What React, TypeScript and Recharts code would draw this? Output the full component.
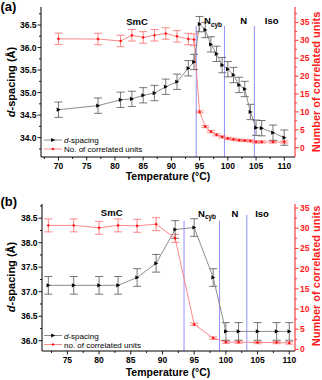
import React from 'react';
import { ComposedChart, Line, XAxis, YAxis, ErrorBar, ReferenceLine } from 'recharts';

const FONT = 'Arial, "Liberation Sans", Helvetica, sans-serif';

// ---------- Panel (a) ----------
const tempA = [70, 77, 81, 83, 85, 87, 89, 91, 93, 94, 95, 96, 97, 98, 99, 100, 101, 102, 103, 104, 105, 106, 108, 110];
const dSpacingA = [34.62, 34.71, 34.84, 34.86, 34.94, 34.99, 35.13, 35.24, 35.54, 35.68, 36.52, 36.39, 36.07, 35.86, 35.61, 35.52, 35.39, 35.17, 35.08, 34.57, 34.22, 34.21, 34.11, 34.0];
const dErrA = [0.17, 0.17, 0.17, 0.17, 0.17, 0.17, 0.17, 0.17, 0.17, 0.17, 0.17, 0.17, 0.17, 0.17, 0.17, 0.17, 0.17, 0.17, 0.17, 0.17, 0.17, 0.17, 0.17, 0.17];
const unitsA = [30.4, 30.35, 29.8, 31.4, 30.8, 31.4, 31.9, 31.1, 30.35, 30.2, 10.0, 5.9, 4.5, 3.6, 3.0, 2.6, 2.35, 2.1, 2.0, 1.9, 1.6, 1.6, 1.6, 1.6];
const uErrA = [1.6, 1.6, 1.6, 1.6, 1.6, 1.6, 1.6, 1.6, 1.6, 1.6, 0.3, 0.3, 0.3, 0.3, 0.3, 0.3, 0.3, 0.3, 0.3, 0.3, 0.3, 0.3, 0.3, 0.3];
const transitionsA = [94.4, 99.4, 104.7];
const transitionTopA = 36.48;
const xTicksA = [67.5, 70, 72.5, 75, 77.5, 80, 82.5, 85, 87.5, 90, 92.5, 95, 97.5, 100, 102.5, 105, 107.5, 110];
const leftTicksA = [33.75, 34, 34.25, 34.5, 34.75, 35, 35.25, 35.5, 35.75, 36, 36.25, 36.5, 36.75];
const rightTicksA = [0, 2.5, 5, 7.5, 10, 12.5, 15, 17.5, 20, 22.5, 25, 27.5, 30, 32.5, 35, 37.5];
const xDomainA = [66.9, 111.9];
const leftDomainA = [33.57, 36.9];
const rightDomainA = [-2.6, 39.3];

// ---------- Panel (b) ----------
const tempB = [72, 76, 80, 83, 86, 89, 92, 95, 98, 100, 102, 105, 108, 110];
const dSpacingB = [37.13, 37.13, 37.13, 37.13, 37.29, 37.58, 38.27, 38.31, 37.29, 36.19, 36.19, 36.19, 36.19, 36.19];
const dErrB = [0.18, 0.18, 0.18, 0.18, 0.18, 0.18, 0.18, 0.18, 0.18, 0.18, 0.18, 0.18, 0.18, 0.18];
const unitsB = [30.7, 30.7, 30.1, 30.7, 30.6, 31.0, 27.5, 6.2, 2.8, 1.8, 1.8, 1.7, 1.7, 1.6];
const uErrB = [1.6, 1.6, 1.6, 1.6, 1.6, 1.6, 1.0, 0.3, 0.3, 0.3, 0.3, 0.3, 0.3, 0.3];
const transitionsB = [93.4, 99.0, 103.3];
const transitionTopsB = [38.45, 38.45, 38.57];
const xTicksB = [72.5, 75, 77.5, 80, 82.5, 85, 87.5, 90, 92.5, 95, 97.5, 100, 102.5, 105, 107.5, 110];
const leftTicksB = [36, 36.25, 36.5, 36.75, 37, 37.25, 37.5, 37.75, 38, 38.25, 38.5, 38.75];
const rightTicksB = [0, 2.5, 5, 7.5, 10, 12.5, 15, 17.5, 20, 22.5, 25, 27.5, 30, 32.5, 35];
const xDomainB = [71, 110.9];
const leftDomainB = [35.79, 38.79];
const rightDomainB = [-0.4, 36];

const dataA = tempA.map((t, i) => ({ t, d: dSpacingA[i], dErr: dErrA[i], n: unitsA[i], nErr: uErrA[i] }));
const dataB = tempB.map((t, i) => ({ t, d: dSpacingB[i], dErr: dErrB[i], n: unitsB[i], nErr: uErrB[i] }));

const isMajor = (v: number, step: number) => Math.abs(v / step - Math.round(v / step)) < 1e-6;

const makeTick = (side: 'bottom' | 'left' | 'right', color: string, step: number, digits: number) => (props: any) => {
  const { x, y, payload } = props;
  const v = payload.value as number;
  const major = isMajor(v, step);
  const len = major ? 3.5 : 2;
  const label = v.toFixed(digits);
  const ts = { fontFamily: FONT, fontSize: 8.5, fontWeight: 'bold' as const, fill: color };
  if (side === 'bottom') {
    return (
      <g>
        <line x1={x} y1={y} x2={x} y2={y + len} stroke={color} strokeWidth={0.9} />
        {major && <text x={x} y={y + 11.5} textAnchor="middle" style={ts}>{label}</text>}
      </g>
    );
  }
  if (side === 'left') {
    return (
      <g>
        <line x1={x} y1={y} x2={x - len} y2={y} stroke={color} strokeWidth={0.9} />
        {major && <text x={x - 4.5} y={y + 3} textAnchor="end" style={ts}>{label}</text>}
      </g>
    );
  }
  return (
    <g>
      <line x1={x} y1={y} x2={x + len} y2={y} stroke={color} strokeWidth={0.9} />
      {major && <text x={x + 5} y={y + 3} textAnchor="start" style={ts}>{label}</text>}
    </g>
  );
};

const blackDot = (p: any) => {
  const { cx, cy, index } = p;
  if (cx == null || cy == null) return <g key={index} />;
  return <path key={index} d={`M${cx - 1.8},${cy - 2.1} L${cx + 2.2},${cy} L${cx - 1.8},${cy + 2.1} Z`} fill="#000" />;
};
const redDot = (p: any) => {
  const { cx, cy, index } = p;
  if (cx == null || cy == null) return <g key={index} />;
  return <path key={index} d={`M${cx},${cy - 1.6} L${cx + 1.6},${cy} L${cx},${cy + 1.6} L${cx - 1.6},${cy} Z`} fill="#ff1010" />;
};

const RED = '#ff1a1a';
const BLUE = '#9090ff';

const titleStyle = { fontFamily: FONT, fontWeight: 'bold' as const, fill: '#000' };

function Legend2({ y1, y2, second }: { y1: number; y2: number; second: string }) {
  return (
    <g>
      <line x1={44} y1={y1} x2={62} y2={y1} stroke="#808080" strokeWidth={0.9} />
      <path d={`M${51.2},${y1 - 2.1} L${55.2},${y1} L${51.2},${y1 + 2.1} Z`} fill="#000" />
      <text x={64} y={y1 + 3} style={{ fontFamily: FONT, fontSize: 8, fill: '#000' }}>
        <tspan fontStyle="italic">d</tspan>-spacing
      </text>
      <line x1={44} y1={y2} x2={62} y2={y2} stroke="#ff7a7a" strokeWidth={0.9} />
      <path d={`M${53},${y2 - 1.6} L${54.6},${y2} L${53},${y2 + 1.6} L${51.4},${y2} Z`} fill="#ff1010" />
      <text x={64} y={y2 + 3} style={{ fontFamily: FONT, fontSize: 8, fill: '#000' }}>{second}</text>
    </g>
  );
}

function PanelA() {
  return (
    <div style={{ position: 'relative', width: 322, height: 190 }}>
      <ComposedChart width={322} height={190} data={dataA} margin={{ top: 7, right: 0, bottom: 0, left: 0 }}>
        <XAxis xAxisId="top" orientation="top" dataKey="t" type="number" domain={xDomainA} allowDataOverflow height={0} tick={false} tickLine={false} axisLine={{ stroke: '#000', strokeWidth: 1 }} />
        <XAxis dataKey="t" type="number" domain={xDomainA} allowDataOverflow ticks={xTicksA} interval={0} height={33} tickSize={0} tickMargin={0} tickLine={false} axisLine={{ stroke: '#000', strokeWidth: 1 }} tick={makeTick('bottom', '#000', 5, 0)} />
        <YAxis yAxisId="left" type="number" domain={leftDomainA} allowDataOverflow ticks={leftTicksA} interval={0} width={41} tickSize={0} tickMargin={0} tickLine={false} axisLine={{ stroke: '#000', strokeWidth: 1 }} tick={makeTick('left', '#000', 0.5, 1)} />
        <YAxis yAxisId="right" orientation="right" type="number" domain={rightDomainA} allowDataOverflow ticks={rightTicksA} interval={0} width={27} tickSize={0} tickMargin={0} tickLine={false} axisLine={{ stroke: RED, strokeWidth: 1 }} tick={makeTick('right', RED, 5, 0)} />
        {transitionsA.map((tx) => (
          <ReferenceLine key={tx} yAxisId="left" segment={[{ x: tx, y: transitionTopA }, { x: tx, y: leftDomainA[0] }]} stroke={BLUE} strokeWidth={1} ifOverflow="extendDomain" />
        ))}
        <Line yAxisId="right" dataKey="n" type="linear" stroke="#ff7a7a" strokeWidth={0.9} dot={redDot} isAnimationActive={false}>
          <ErrorBar dataKey="nErr" width={4} stroke="#ff6a6a" strokeWidth={0.8} direction="y" />
        </Line>
        <Line yAxisId="left" dataKey="d" type="linear" stroke="#808080" strokeWidth={0.9} dot={blackDot} isAnimationActive={false}>
          <ErrorBar dataKey="dErr" width={4} stroke="#555" strokeWidth={0.8} direction="y" />
        </Line>
      </ComposedChart>
      <svg width={322} height={190} style={{ position: 'absolute', left: 0, top: 0, pointerEvents: 'none' }}>
        <text x={0.5} y={11} style={{ ...titleStyle, fontSize: 13 }}>(a)</text>
        <text x={137} y={25} textAnchor="middle" style={{ ...titleStyle, fontSize: 9.5 }}>SmC</text>
        <text x={204} y={24} style={{ ...titleStyle, fontSize: 9.5 }}>N<tspan fontSize={6.5} dy={2.5}>cyb</tspan></text>
        <text x={243.7} y={24} textAnchor="middle" style={{ ...titleStyle, fontSize: 9.5 }}>N</text>
        <text x={271.7} y={24} textAnchor="middle" style={{ ...titleStyle, fontSize: 9.5 }}>Iso</text>
        <text transform="translate(14.5,82) rotate(-90)" textAnchor="middle" style={{ ...titleStyle, fontSize: 11 }}>
          <tspan fontStyle="italic">d</tspan>-spacing (Å)
        </text>
        <text transform="translate(320,82) rotate(-90)" textAnchor="middle" style={{ ...titleStyle, fontSize: 11, fill: RED }}>Number of correlated units</text>
        <text x={168} y={180} textAnchor="middle" style={{ ...titleStyle, fontSize: 10.5 }}>Temperature (°C)</text>
        <Legend2 y1={140} y2={149} second="No. of correlated units" />
      </svg>
    </div>
  );
}

function PanelB() {
  return (
    <div style={{ position: 'relative', width: 322, height: 190 }}>
      <ComposedChart width={322} height={190} data={dataB} margin={{ top: 14, right: 0, bottom: 0, left: 0 }}>
        <XAxis xAxisId="top" orientation="top" dataKey="t" type="number" domain={xDomainB} allowDataOverflow height={0} tick={false} tickLine={false} axisLine={{ stroke: '#000', strokeWidth: 1 }} />
        <XAxis dataKey="t" type="number" domain={xDomainB} allowDataOverflow ticks={xTicksB} interval={0} height={29} tickSize={0} tickMargin={0} tickLine={false} axisLine={{ stroke: '#000', strokeWidth: 1 }} tick={makeTick('bottom', '#000', 5, 0)} />
        <YAxis yAxisId="left" type="number" domain={leftDomainB} allowDataOverflow ticks={leftTicksB} interval={0} width={42} tickSize={0} tickMargin={0} tickLine={false} axisLine={{ stroke: '#000', strokeWidth: 1 }} tick={makeTick('left', '#000', 0.5, 1)} />
        <YAxis yAxisId="right" orientation="right" type="number" domain={rightDomainB} allowDataOverflow ticks={rightTicksB} interval={0} width={27} tickSize={0} tickMargin={0} tickLine={false} axisLine={{ stroke: RED, strokeWidth: 1 }} tick={makeTick('right', RED, 5, 0)} />
        {transitionsB.map((tx, i) => (
          <ReferenceLine key={tx} yAxisId="left" segment={[{ x: tx, y: transitionTopsB[i] }, { x: tx, y: leftDomainB[0] }]} stroke={BLUE} strokeWidth={1} ifOverflow="extendDomain" />
        ))}
        <Line yAxisId="right" dataKey="n" type="linear" stroke="#ff7a7a" strokeWidth={0.9} dot={redDot} isAnimationActive={false}>
          <ErrorBar dataKey="nErr" width={4} stroke="#ff6a6a" strokeWidth={0.8} direction="y" />
        </Line>
        <Line yAxisId="left" dataKey="d" type="linear" stroke="#808080" strokeWidth={0.9} dot={blackDot} isAnimationActive={false}>
          <ErrorBar dataKey="dErr" width={4} stroke="#555" strokeWidth={0.8} direction="y" />
        </Line>
      </ComposedChart>
      <svg width={322} height={190} style={{ position: 'absolute', left: 0, top: 0, pointerEvents: 'none' }}>
        <text x={0.5} y={16} style={{ ...titleStyle, fontSize: 13 }}>(b)</text>
        <text x={111.7} y={26} textAnchor="middle" style={{ ...titleStyle, fontSize: 9.5 }}>SmC</text>
        <text x={198} y={26.5} style={{ ...titleStyle, fontSize: 9.5 }}>N<tspan fontSize={6.5} dy={2.5}>cyb</tspan></text>
        <text x={235} y={26.5} textAnchor="middle" style={{ ...titleStyle, fontSize: 9.5 }}>N</text>
        <text x={262} y={26.5} textAnchor="middle" style={{ ...titleStyle, fontSize: 9.5 }}>Iso</text>
        <text transform="translate(15,87) rotate(-90)" textAnchor="middle" style={{ ...titleStyle, fontSize: 11 }}>
          <tspan fontStyle="italic">d</tspan>-spacing (Å)
        </text>
        <text transform="translate(320,86) rotate(-90)" textAnchor="middle" style={{ ...titleStyle, fontSize: 11, fill: RED }}>Number of correlated units</text>
        <text x={168} y={186} textAnchor="middle" style={{ ...titleStyle, fontSize: 10.5 }}>Temperature (°C)</text>
        <Legend2 y1={145.5} y2={154.5} second="no. of correlated units" />
      </svg>
    </div>
  );
}

export default function App() {
  return (
    <div style={{ position: 'absolute', left: 0, top: 0, width: 322, height: 380, background: '#fff' }}>
      <PanelA />
      <PanelB />
    </div>
  );
}
